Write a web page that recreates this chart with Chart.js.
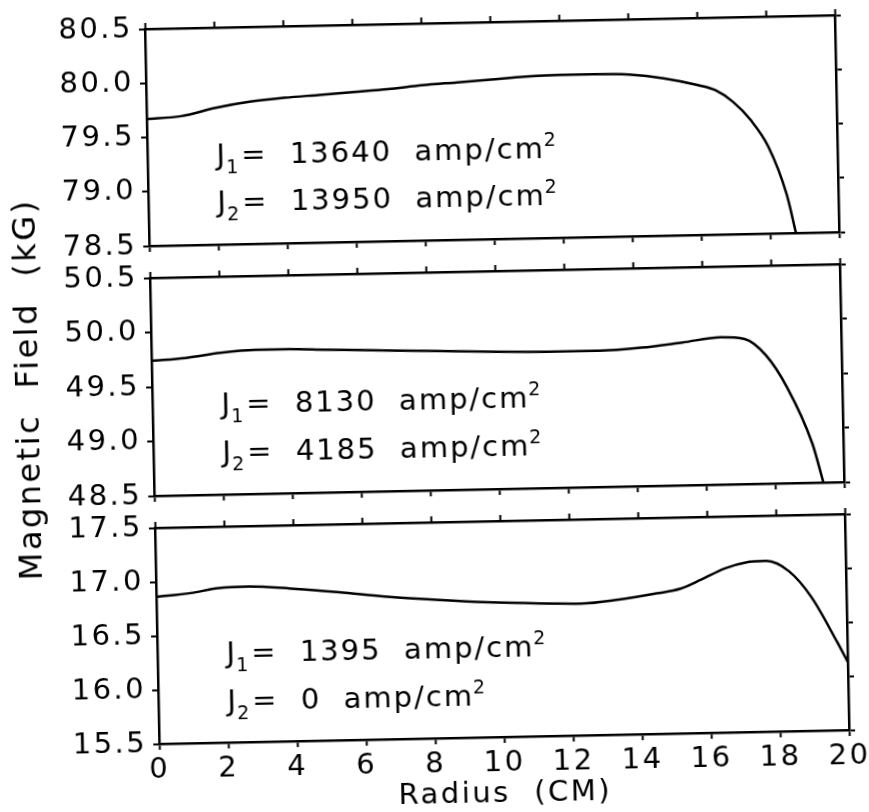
<!DOCTYPE html>
<html>
<head>
<meta charset="utf-8">
<title>Magnetic field vs radius</title>
<script src="https://cdn.jsdelivr.net/npm/chart.js@4.4.1/dist/chart.umd.min.js"></script>
<style>
  html, body { margin: 0; padding: 0; background: #fff; overflow: hidden; }
  /* the scanned figure sits slightly tilted on the page */
  #figure { position: relative; width: 869px; height: 812px;
            transform: rotate(-1.15deg); transform-origin: 497px 379px; }
  #figure canvas { position: absolute; left: 0; }
</style>
</head>
<body>
<div id="figure">
  <canvas id="top" width="869" height="260" style="top:0px"></canvas>
  <canvas id="middle" width="869" height="440" style="top:160px"></canvas>
  <canvas id="bottom" width="869" height="313" style="top:499px"></canvas>
</div>
<script>
// radius (cm) and field (kG)
const radiusTop = [0, 1, 2, 3, 4, 5, 6, 7, 8, 9, 10, 11, 12, 13, 14, 15, 16, 16.5, 17, 17.5, 18, 18.5, 18.75];
const fieldTop = [79.67, 79.69, 79.76, 79.81, 79.84, 79.86, 79.88, 79.90, 79.93, 79.95, 79.97, 79.99, 80.00, 80.00, 79.99, 79.95, 79.88, 79.83, 79.72, 79.55, 79.30, 78.86, 78.50];

const radiusMid = [0, 1, 2, 3, 4, 5, 6, 8, 10, 12, 13, 14.2, 15.4, 16.5, 17.2, 17.8, 18.4, 19.1, 19.4];
const fieldMid = [49.74, 49.76, 49.80, 49.82, 49.82, 49.81, 49.80, 49.78, 49.76, 49.75, 49.75, 49.77, 49.81, 49.85, 49.83, 49.68, 49.38, 48.86, 48.50];

const radiusLow = [0, 1, 1.8, 2.7, 4, 5.3, 6.7, 8.2, 9.6, 11.1, 12.3, 13.4, 14.5, 15.2, 15.8, 16.5, 17.1, 17.7, 18.35, 18.98, 19.7, 20];
const fieldLow = [16.86, 16.89, 16.93, 16.94, 16.91, 16.87, 16.82, 16.78, 16.75, 16.73, 16.72, 16.75, 16.80, 16.84, 16.92, 17.02, 17.07, 17.08, 16.98, 16.74, 16.32, 16.13];

// tick labels
const radiusTicks = [0, 2, 4, 6, 8, 10, 12, 14, 16, 18, 20];
const fieldTicksTop = [78.5, 79.0, 79.5, 80.0, 80.5];
const fieldTicksMid = [48.5, 49.0, 49.5, 50.0, 50.5];
const fieldTicksLow = [15.5, 16.0, 16.5, 17.0, 17.5];

// current densities (amp/cm^2) printed in each panel
const j1Values = ['13640', '8130', '1395'];
const j2Values = ['13950', '4185', '0'];

Chart.defaults.font.family = 'DejaVu Sans';
Chart.defaults.font.size = 29;
Chart.defaults.color = '#000';

const FONT = '"DejaVu Sans"';

// the lettering of the original is wide, so space the glyphs out a little
const wideText = {
  id: 'wideText',
  beforeDraw(chart) {
    chart.ctx.letterSpacing = '2.5px';
  }
};

// draws "J1= ... amp/cm2" with a real subscript and superscript
const currentLabels = {
  id: 'currents',
  afterDatasetsDraw(chart, args, opts) {
    const { ctx, chartArea: a } = chart;
    const h = a.bottom - a.top;
    const x0 = a.left + 0.1 * (a.right - a.left);
    const rows = [['1', opts.j1, 0.37], ['2', opts.j2, 0.15]];
    ctx.save();
    ctx.fillStyle = '#000';
    ctx.textBaseline = 'alphabetic';
    ctx.letterSpacing = '2px';
    rows.forEach(([n, value, frac]) => {
      const y = a.bottom - frac * h;
      let x = x0;
      ctx.font = '29px ' + FONT;
      ctx.fillText('J', x, y);
      x += ctx.measureText('J').width;
      ctx.font = '19px ' + FONT;
      ctx.fillText(n, x - 1, y + 9);
      x += ctx.measureText(n).width;
      ctx.font = '29px ' + FONT;
      const body = '=  ' + value + '  amp/cm';
      ctx.fillText(body, x, y);
      x += ctx.measureText(body).width;
      ctx.font = '19px ' + FONT;
      ctx.fillText('2', x - 1, y - 12);
    });
    ctx.restore();
  }
};

function fixSize(prop, size) {
  return function(scale) {
    scale[prop] = size;
    scale.paddingTop = 0;
    scale.paddingBottom = 0;
    scale.paddingLeft = 0;
    scale.paddingRight = 0;
  };
}

function useTicks(values) {
  return function(scale) {
    scale.ticks = values.map(v => ({ value: v }));
  };
}

// topGap / bottomGap: canvas space above and below the plot area
function makePanel(id, radius, field, yTicks, j1, j2, topGap, bottomGap, isBottom, isMiddle) {
  const border = { display: true, color: '#000', width: 2.5 };
  const grid = { drawOnChartArea: false, drawTicks: true, tickLength: 6, tickWidth: 2, tickColor: '#000' };
  const yMin = yTicks[0];
  const yMax = yTicks[yTicks.length - 1];

  return new Chart(document.getElementById(id), {
    type: 'line',
    data: {
      datasets: [{
        data: radius.map((r, i) => ({ x: r, y: field[i] })),
        borderColor: '#000',
        borderWidth: 2.5,
        pointRadius: 0,
        cubicInterpolationMode: 'monotone',
        fill: false
      }]
    },
    options: {
      responsive: false,
      animation: false,
      events: [],
      layout: { padding: 0 },
      plugins: {
        legend: { display: false },
        tooltip: { enabled: false },
        currents: { j1: j1, j2: j2 }
      },
      scales: {
        x: {
          type: 'linear', position: 'bottom', min: 0, max: 20,
          afterBuildTicks: useTicks(radiusTicks),
          afterFit: fixSize('height', bottomGap),
          ticks: { display: isBottom, padding: 3, maxRotation: 0, callback: v => String(v) },
          title: { display: isBottom, text: 'Radius  (CM)', font: { size: 29 }, padding: { top: 0, bottom: 0 } },
          grid: grid, border: border
        },
        xTop: {
          type: 'linear', position: 'top', min: 0, max: 20,
          afterBuildTicks: useTicks(radiusTicks),
          afterFit: fixSize('height', topGap),
          ticks: { display: false },
          grid: grid, border: border
        },
        y: {
          type: 'linear', position: 'left', min: yMin, max: yMax,
          afterBuildTicks: useTicks(yTicks),
          afterFit: fixSize('width', 152),
          ticks: { padding: 6, callback: v => Number(v).toFixed(1) },
          title: { display: isMiddle, text: 'Magnetic  Field  (kG)', font: { size: 32 }, padding: { top: 10, bottom: 0 } },
          grid: grid, border: border
        },
        yRight: {
          type: 'linear', position: 'right', min: yMin, max: yMax,
          afterBuildTicks: useTicks(yTicks),
          afterFit: fixSize('width', 27),
          ticks: { display: false },
          grid: grid, border: border
        }
      }
    },
    plugins: [wideText, currentLabels]
  });
}

makePanel('top', radiusTop, fieldTop, fieldTicksTop, j1Values[0], j2Values[0], 22, 21, false, false);
makePanel('middle', radiusMid, fieldMid, fieldTicksMid, j1Values[1], j2Values[1], 111, 111, false, true);
makePanel('bottom', radiusLow, fieldLow, fieldTicksLow, j1Values[2], j2Values[2], 22, 75, true, false);
</script>
</body>
</html>
